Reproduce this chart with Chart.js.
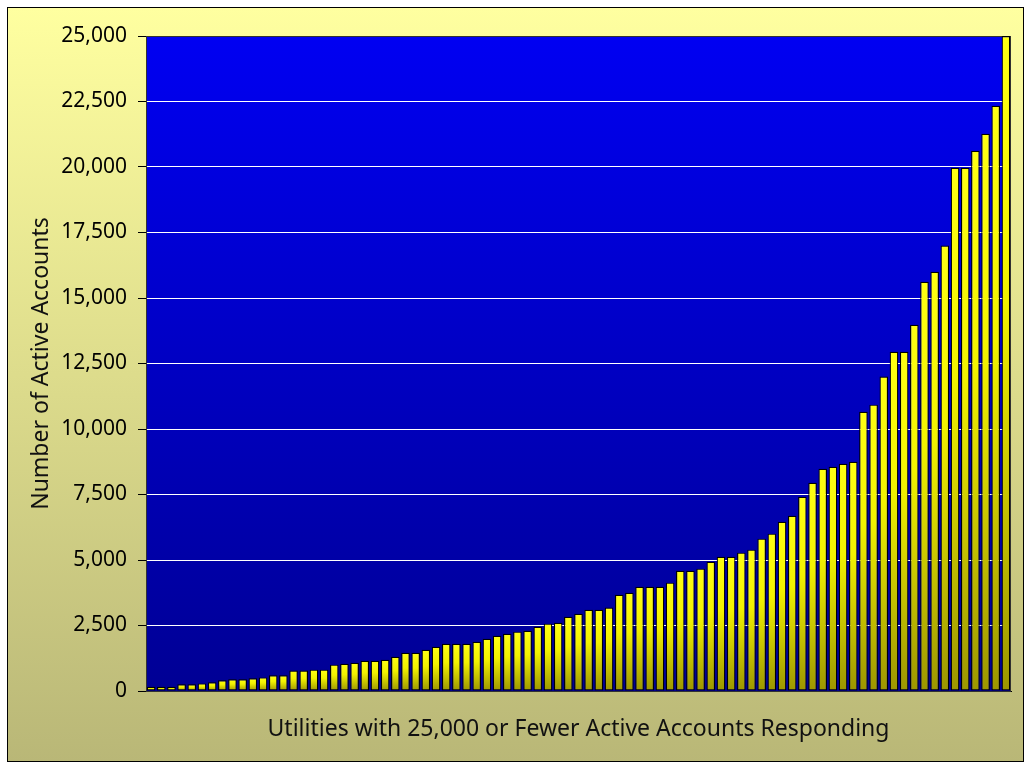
<!DOCTYPE html>
<html>
<head>
<meta charset="utf-8">
<title>Active Accounts</title>
<script src="https://cdn.jsdelivr.net/npm/chart.js@4.4.1/dist/chart.umd.min.js"></script>
<style>
  html, body { margin: 0; padding: 0; background: #fff; }
  #wrap { width: 1031px; height: 770px; }
</style>
</head>
<body>
<div id="wrap"><canvas id="accountsChart" width="1031" height="770"></canvas></div>
<script>
// Active accounts per responding utility, sorted ascending
const activeAccounts = [
    160, 160, 160, 255, 255, 290, 330, 410, 445, 445,
    485, 520, 600, 600, 780, 780, 815, 815, 1005, 1040,
    1080, 1155, 1155, 1195, 1310, 1460, 1460, 1575, 1690, 1805,
    1805, 1805, 1880, 1995, 2110, 2185, 2265, 2300, 2455, 2570,
    2605, 2835, 2950, 3100, 3100, 3185, 3675, 3750, 3980, 3980,
    3980, 4135, 4590, 4590, 4670, 4935, 5125, 5125, 5280, 5395,
    5815, 6005, 6460, 6690, 7415, 7950, 8485, 8560, 8675, 8750,
    10660, 10930, 12000, 12950, 12950, 13980, 15620, 16000, 17000, 19970,
    19970, 20620, 21270, 22340, 25000
];
const utilities = activeAccounts.map((v, i) => 'Utility ' + (i + 1));
const yTickValues = [0, 2500, 5000, 7500, 10000, 12500, 15000, 17500, 20000, 22500, 25000];
const yAxisTitle = 'Number of Active Accounts';
const xAxisTitle = 'Utilities with 25,000 or Fewer Active Accounts Responding';

const FONT = '"Noto Sans", "DejaVu Sans", sans-serif';

// Page and plot backgrounds
const backdrop = {
    id: 'backdrop',
    beforeDraw(chart) {
        const ctx = chart.ctx;
        const a = chart.chartArea;
        ctx.save();
        ctx.fillStyle = '#ffffff';
        ctx.fillRect(0, 0, chart.width, chart.height);

        const bg = ctx.createLinearGradient(0, 8, 0, 762);
        bg.addColorStop(0, '#ffffa0');
        bg.addColorStop(1, '#b9b777');
        ctx.fillStyle = bg;
        ctx.fillRect(8, 8, 1016, 754);
        ctx.strokeStyle = '#000';
        ctx.lineWidth = 1;
        ctx.strokeRect(7.5, 7.5, 1016, 754);

        const pg = ctx.createLinearGradient(0, a.top, 0, a.bottom);
        pg.addColorStop(0, '#0000f2');
        pg.addColorStop(1, '#000094');
        ctx.fillStyle = pg;
        ctx.fillRect(a.left, a.top, a.right - a.left, a.bottom - a.top);
        ctx.restore();
    },
    beforeDatasetsDraw(chart) {
        const ctx = chart.ctx;
        const a = chart.chartArea;
        ctx.save();
        ctx.strokeStyle = '#333';
        ctx.lineWidth = 1;
        ctx.strokeRect(a.left + 0.5, a.top + 0.5, a.right - a.left - 1, a.bottom - a.top);
        ctx.restore();
    }
};

const ctx = document.getElementById('accountsChart').getContext('2d');
const chart = new Chart(ctx, {
    type: 'bar',
    data: {
        labels: utilities,
        datasets: [{
            label: yAxisTitle,
            data: activeAccounts,
            backgroundColor: function (context) {
                const c = context.chart;
                const area = c.chartArea;
                if (!area || context.raw == null) {
                    return '#ffff00';
                }
                const top = c.scales.y.getPixelForValue(context.raw);
                const g = c.ctx.createLinearGradient(0, top, 0, area.bottom);
                g.addColorStop(0, '#ffff14');
                g.addColorStop(0.4, '#f2f200');
                g.addColorStop(1, '#9c9600');
                return g;
            },
            borderColor: '#000000',
            borderWidth: 1.2,
            borderSkipped: false,
            barPercentage: 0.84,
            categoryPercentage: 1
        }]
    },
    options: {
        responsive: false,
        animation: false,
        devicePixelRatio: 1,
        layout: { padding: { left: 0, right: 20, top: 36, bottom: 0 } },
        plugins: {
            legend: { display: false },
            tooltip: { enabled: false }
        },
        scales: {
            x: {
                ticks: { display: false },
                grid: { display: false },
                border: { display: true, color: '#000', width: 1 },
                title: {
                    display: true,
                    text: xAxisTitle,
                    color: '#111',
                    font: { family: FONT, size: 23 },
                    padding: { top: 0, bottom: 27 }
                },
                afterFit: function (scale) { scale.height = 79; }
            },
            y: {
                min: 0,
                max: 25000,
                afterBuildTicks: function (scale) {
                    scale.ticks = yTickValues.map(v => ({ value: v }));
                },
                ticks: {
                    color: '#000',
                    padding: 11,
                    font: { family: FONT, size: 21 },
                    callback: function (value) { return Number(value).toLocaleString('en-US'); }
                },
                grid: {
                    color: '#ffffff',
                    lineWidth: 1,
                    tickColor: '#000',
                    tickLength: 8
                },
                border: { display: true, color: '#000', width: 1 },
                title: {
                    display: true,
                    text: yAxisTitle,
                    color: '#111',
                    font: { family: FONT, size: 23 },
                    padding: { top: 28, bottom: 0 }
                },
                afterFit: function (scale) { scale.width = 146; }
            }
        }
    },
    plugins: [backdrop]
});
</script>
</body>
</html>
